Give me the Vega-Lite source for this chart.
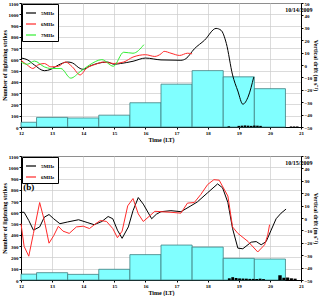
{
  "$schema": "https://vega.github.io/schema/vega-lite/v6.json",
  "padding": {"top": 0, "left": 0, "right": 0, "bottom": 0},
  "spacing": 10,
  "config": {
    "font": "Liberation Serif",
    "view": {"stroke": "#000", "strokeWidth": 1},
    "axis": {
      "labelFont": "Liberation Serif", "labelFontWeight": "bold", "labelFontSize": 5, "labelColor": "#000",
      "titleFont": "Liberation Serif", "titleFontWeight": "bold", "titleFontSize": 6, "titleColor": "#000",
      "tickSize": 2, "labelPadding": 1, "titlePadding": 1, "domainColor": "#000", "tickColor": "#000",
      "gridColor": "#cccccc", "gridWidth": 0.7, "labelOverlap": false, "labelFlush": false, "labelBound": false
    },
    "legend": {
      "orient": "top-left", "offset": 1, "strokeColor": "#000", "fillColor": "#fff", "padding": 3,
      "labelFont": "Liberation Serif", "labelFontWeight": "bold", "labelFontSize": 5, "labelColor": "#000",
      "symbolType": "stroke", "symbolSize": 100, "symbolStrokeWidth": 1.2, "rowPadding": 2, "title": null
    }
  },
  "vconcat": [
    {
      "width": 280, "height": 124,
      "layer": [
        {
          "data": {"values": [
            {"h": 12.0, "h1": 12.5, "count": 42},
            {"h": 12.5, "h1": 13.5, "count": 85},
            {"h": 13.5, "h1": 14.5, "count": 80},
            {"h": 14.5, "h1": 15.5, "count": 105},
            {"h": 15.5, "h1": 16.5, "count": 215},
            {"h": 16.5, "h1": 17.5, "count": 380},
            {"h": 17.5, "h1": 18.5, "count": 500},
            {"h": 18.5, "h1": 19.5, "count": 445},
            {"h": 19.5, "h1": 20.5, "count": 340}
          ]},
          "mark": {"type": "bar", "fill": "#80ffff", "stroke": "#3f7f80", "strokeWidth": 0.8},
          "encoding": {
            "x": {"field": "h", "type": "quantitative", "scale": {"domain": [12, 21], "nice": false},
                  "axis": {"values": [12,13,14,15,16,17,18,19,20,21], "format": "d", "grid": true, "title": "Time (LT)", "labelOverlap": false}},
            "x2": {"field": "h1"},
            "y": {"field": "count", "type": "quantitative", "scale": {"domain": [0, 1100], "nice": false},
                  "axis": {"orient": "left", "values": [0,100,200,300,400,500,600,700,800,900,1000,1100], "format": "d", "grid": true, "title": "Number of lightning strikes"}},
            "y2": {"datum": 0}
          }
        },
        {
          "data": {"values": [
            {"h": 18.64, "h1": 18.72, "count": 6},
            {"h": 18.96, "h1": 19.04, "count": 10},
            {"h": 19.06, "h1": 19.14, "count": 12},
            {"h": 19.16, "h1": 19.24, "count": 14},
            {"h": 19.26, "h1": 19.34, "count": 12},
            {"h": 19.36, "h1": 19.44, "count": 10},
            {"h": 19.46, "h1": 19.54, "count": 13},
            {"h": 19.56, "h1": 19.64, "count": 12},
            {"h": 19.66, "h1": 19.74, "count": 10},
            {"h": 20.64, "h1": 20.72, "count": 5},
            {"h": 20.74, "h1": 20.82, "count": 5},
            {"h": 20.84, "h1": 20.92, "count": 5}
          ]},
          "mark": {"type": "bar", "fill": "#000"},
          "encoding": {
            "x": {"field": "h", "type": "quantitative", "axis": null},
            "x2": {"field": "h1"},
            "y": {"field": "count", "type": "quantitative", "scale": {"domain": [0, 1100], "nice": false}, "axis": null},
            "y2": {"datum": 0}
          }
        },
        {
          "data": {"values": [
            {"freq": "5MHz", "h": 12.0, "d": 5.6}, {"freq": "5MHz", "h": 12.2, "d": 4.3}, {"freq": "5MHz", "h": 12.43, "d": 0},
            {"freq": "5MHz", "h": 12.75, "d": -4.6}, {"freq": "5MHz", "h": 12.96, "d": -3.5}, {"freq": "5MHz", "h": 13.2, "d": 0},
            {"freq": "5MHz", "h": 13.5, "d": 2.4}, {"freq": "5MHz", "h": 13.65, "d": 1.7}, {"freq": "5MHz", "h": 13.9, "d": -2.8},
            {"freq": "5MHz", "h": 14.0, "d": -3.5}, {"freq": "5MHz", "h": 14.2, "d": -1}, {"freq": "5MHz", "h": 14.45, "d": 1.2},
            {"freq": "5MHz", "h": 14.77, "d": 2.4}, {"freq": "5MHz", "h": 15.0, "d": 0.6}, {"freq": "5MHz", "h": 15.2, "d": 1.2},
            {"freq": "5MHz", "h": 15.6, "d": 3}, {"freq": "5MHz", "h": 16.0, "d": 5.6}, {"freq": "5MHz", "h": 16.5, "d": 4.1},
            {"freq": "5MHz", "h": 17.14, "d": 3.8}, {"freq": "5MHz", "h": 17.3, "d": 5.1}, {"freq": "5MHz", "h": 17.57, "d": 13},
            {"freq": "5MHz", "h": 17.9, "d": 20}, {"freq": "5MHz", "h": 18.27, "d": 29.5}, {"freq": "5MHz", "h": 18.43, "d": 28},
            {"freq": "5MHz", "h": 18.6, "d": 17.4}, {"freq": "5MHz", "h": 18.8, "d": -8}, {"freq": "5MHz", "h": 18.97, "d": -21},
            {"freq": "5MHz", "h": 19.13, "d": -31.6}, {"freq": "5MHz", "h": 19.31, "d": -25}, {"freq": "5MHz", "h": 19.48, "d": -9.8},
            {"freq": "6MHz", "h": 12.0, "d": 3.8}, {"freq": "6MHz", "h": 12.2, "d": 0}, {"freq": "6MHz", "h": 12.38, "d": -2.8},
            {"freq": "6MHz", "h": 12.54, "d": 0}, {"freq": "6MHz", "h": 12.75, "d": 1.2}, {"freq": "6MHz", "h": 12.96, "d": -1.5},
            {"freq": "6MHz", "h": 13.2, "d": -1}, {"freq": "6MHz", "h": 13.43, "d": 2.4}, {"freq": "6MHz", "h": 13.65, "d": -1.5},
            {"freq": "6MHz", "h": 13.9, "d": -8}, {"freq": "6MHz", "h": 14.1, "d": -2.8}, {"freq": "6MHz", "h": 14.4, "d": 0.6},
            {"freq": "6MHz", "h": 14.66, "d": 2.4}, {"freq": "6MHz", "h": 14.97, "d": 1.2}, {"freq": "6MHz", "h": 15.3, "d": 2.4},
            {"freq": "6MHz", "h": 15.6, "d": 6.4}, {"freq": "6MHz", "h": 16.0, "d": 8.3}, {"freq": "6MHz", "h": 16.3, "d": 6.9},
            {"freq": "6MHz", "h": 16.5, "d": 9}, {"freq": "6MHz", "h": 16.6, "d": 11}, {"freq": "6MHz", "h": 16.82, "d": 9.5},
            {"freq": "6MHz", "h": 17.1, "d": 7.7}, {"freq": "6MHz", "h": 17.35, "d": 9.5}, {"freq": "6MHz", "h": 17.5, "d": 9},
            {"freq": "7MHz", "h": 12.0, "d": 2.4}, {"freq": "7MHz", "h": 12.2, "d": 0.6}, {"freq": "7MHz", "h": 12.43, "d": 3.2},
            {"freq": "7MHz", "h": 12.75, "d": -1.5}, {"freq": "7MHz", "h": 12.96, "d": -2.8}, {"freq": "7MHz", "h": 13.28, "d": -2.8},
            {"freq": "7MHz", "h": 13.6, "d": -10.6}, {"freq": "7MHz", "h": 13.9, "d": -5.4}, {"freq": "7MHz", "h": 14.2, "d": 0},
            {"freq": "7MHz", "h": 14.6, "d": 4.3}, {"freq": "7MHz", "h": 14.97, "d": -1}, {"freq": "7MHz", "h": 15.3, "d": 10.3},
            {"freq": "7MHz", "h": 15.6, "d": 9.5}, {"freq": "7MHz", "h": 15.95, "d": 16.4}
          ]},
          "mark": {"type": "line", "strokeWidth": 1, "interpolate": "monotone"},
          "encoding": {
            "x": {"field": "h", "type": "quantitative", "axis": null},
            "y": {"field": "d", "type": "quantitative", "scale": {"domain": [-50, 50], "nice": false},
                  "axis": {"orient": "right", "values": [-50,-40,-30,-20,-10,0,10,20,30,40,50], "grid": false, "title": "Vertical drift (m s⁻¹)"}},
            "color": {"field": "freq", "type": "nominal",
                      "scale": {"domain": ["5MHz", "6MHz", "7MHz"], "range": ["#000000", "#ff2a2a", "#33ee33"]}}
          }
        },
        {
          "data": {"values": [{"h": 12.25, "d": 23, "label": "(a)"}, {"h": 20.93, "d": 44.5, "label": "10/14/2009"}]},
          "mark": {"type": "text", "baseline": "middle", "fontWeight": "bold", "font": "Liberation Serif"},
          "encoding": {
            "x": {"field": "h", "type": "quantitative", "axis": null},
            "y": {"field": "d", "type": "quantitative", "scale": {"domain": [-50, 50], "nice": false}, "axis": null},
            "text": {"field": "label"},
            "align": {"condition": {"test": "datum.label === '(a)'", "value": "left"}, "value": "right"},
            "size": {"condition": {"test": "datum.label === '(a)'", "value": 9}, "value": 6}
          }
        }
      ],
      "resolve": {"scale": {"y": "independent"}, "axis": {"y": "independent", "x": "independent"}}
    },
    {
      "width": 280, "height": 124,
      "layer": [
        {
          "data": {"values": [
            {"h": 12.0, "h1": 12.5, "count": 52},
            {"h": 12.5, "h1": 13.5, "count": 65},
            {"h": 13.5, "h1": 14.5, "count": 50},
            {"h": 14.5, "h1": 15.5, "count": 95},
            {"h": 15.5, "h1": 16.5, "count": 225},
            {"h": 16.5, "h1": 17.5, "count": 310},
            {"h": 17.5, "h1": 18.5, "count": 292},
            {"h": 18.5, "h1": 19.5, "count": 192},
            {"h": 19.5, "h1": 20.5, "count": 186}
          ]},
          "mark": {"type": "bar", "fill": "#80ffff", "stroke": "#3f7f80", "strokeWidth": 0.8},
          "encoding": {
            "x": {"field": "h", "type": "quantitative", "scale": {"domain": [12, 21], "nice": false},
                  "axis": {"values": [12,13,14,15,16,17,18,19,20,21], "format": "d", "grid": true, "title": "Time (LT)", "labelOverlap": false}},
            "x2": {"field": "h1"},
            "y": {"field": "count", "type": "quantitative", "scale": {"domain": [0, 1100], "nice": false},
                  "axis": {"orient": "left", "values": [0,100,200,300,400,500,600,700,800,900,1000,1100], "format": "d", "grid": true, "title": "Number of lightning strikes"}},
            "y2": {"datum": 0}
          }
        },
        {
          "data": {"values": [
            {"h": 18.65, "h1": 18.74, "count": 15},
            {"h": 18.76, "h1": 18.85, "count": 25},
            {"h": 18.87, "h1": 18.96, "count": 18},
            {"h": 18.98, "h1": 19.07, "count": 14},
            {"h": 19.09, "h1": 19.18, "count": 13},
            {"h": 19.2, "h1": 19.29, "count": 12},
            {"h": 19.31, "h1": 19.4, "count": 10},
            {"h": 19.42, "h1": 19.51, "count": 10},
            {"h": 19.53, "h1": 19.62, "count": 9},
            {"h": 19.64, "h1": 19.73, "count": 12},
            {"h": 19.75, "h1": 19.84, "count": 8},
            {"h": 20.27, "h1": 20.38, "count": 42},
            {"h": 20.4, "h1": 20.5, "count": 20},
            {"h": 20.52, "h1": 20.62, "count": 22},
            {"h": 20.64, "h1": 20.74, "count": 15},
            {"h": 20.76, "h1": 20.86, "count": 12}
          ]},
          "mark": {"type": "bar", "fill": "#000"},
          "encoding": {
            "x": {"field": "h", "type": "quantitative", "axis": null},
            "x2": {"field": "h1"},
            "y": {"field": "count", "type": "quantitative", "scale": {"domain": [0, 1100], "nice": false}, "axis": null},
            "y2": {"datum": 0}
          }
        },
        {
          "data": {"values": [
            {"freq": "5MHz", "h": 12.0, "d": 4.6}, {"freq": "5MHz", "h": 12.1, "d": 4.6}, {"freq": "5MHz", "h": 12.25, "d": -2},
            {"freq": "5MHz", "h": 12.4, "d": -9.8}, {"freq": "5MHz", "h": 12.6, "d": -7.2}, {"freq": "5MHz", "h": 12.75, "d": 0.7},
            {"freq": "5MHz", "h": 12.9, "d": 2.8}, {"freq": "5MHz", "h": 13.05, "d": -0.6}, {"freq": "5MHz", "h": 13.25, "d": -4.6},
            {"freq": "5MHz", "h": 13.5, "d": -3.2}, {"freq": "5MHz", "h": 13.85, "d": -1.4}, {"freq": "5MHz", "h": 14.15, "d": -3.8},
            {"freq": "5MHz", "h": 14.35, "d": -5.4}, {"freq": "5MHz", "h": 14.6, "d": -2.8}, {"freq": "5MHz", "h": 14.8, "d": 1.2},
            {"freq": "5MHz", "h": 14.95, "d": -0.6}, {"freq": "5MHz", "h": 15.1, "d": -9.8}, {"freq": "5MHz", "h": 15.25, "d": -16.4},
            {"freq": "5MHz", "h": 15.45, "d": -7.2}, {"freq": "5MHz", "h": 15.6, "d": 5.9}, {"freq": "5MHz", "h": 15.77, "d": 16.5},
            {"freq": "5MHz", "h": 15.93, "d": 11.2}, {"freq": "5MHz", "h": 16.2, "d": -0.6}, {"freq": "5MHz", "h": 16.35, "d": 3},
            {"freq": "5MHz", "h": 16.5, "d": 5.1}, {"freq": "5MHz", "h": 16.82, "d": 5.9}, {"freq": "5MHz", "h": 17.14, "d": 5.1},
            {"freq": "5MHz", "h": 17.46, "d": 9.8}, {"freq": "5MHz", "h": 17.67, "d": 13}, {"freq": "5MHz", "h": 18.0, "d": 20.4},
            {"freq": "5MHz", "h": 18.32, "d": 27.5}, {"freq": "5MHz", "h": 18.48, "d": 24.3}, {"freq": "5MHz", "h": 18.65, "d": 12.5},
            {"freq": "5MHz", "h": 18.8, "d": -8.5}, {"freq": "5MHz", "h": 18.97, "d": -24.3}, {"freq": "5MHz", "h": 19.13, "d": -24.8},
            {"freq": "5MHz", "h": 19.4, "d": -19.5}, {"freq": "5MHz", "h": 19.56, "d": -19}, {"freq": "5MHz", "h": 19.72, "d": -21.6},
            {"freq": "5MHz", "h": 19.88, "d": -19}, {"freq": "5MHz", "h": 20.04, "d": -9.8}, {"freq": "5MHz", "h": 20.2, "d": -0.6},
            {"freq": "5MHz", "h": 20.36, "d": 3.9}, {"freq": "5MHz", "h": 20.52, "d": 7.2},
            {"freq": "6MHz", "h": 12.0, "d": -4.6}, {"freq": "6MHz", "h": 12.1, "d": -22.9}, {"freq": "6MHz", "h": 12.25, "d": -30.8},
            {"freq": "6MHz", "h": 12.4, "d": -12.4}, {"freq": "6MHz", "h": 12.6, "d": 12.5}, {"freq": "6MHz", "h": 12.75, "d": -2},
            {"freq": "6MHz", "h": 12.9, "d": -20.3}, {"freq": "6MHz", "h": 13.05, "d": -14.3}, {"freq": "6MHz", "h": 13.2, "d": -6.7},
            {"freq": "6MHz", "h": 13.35, "d": -10.6}, {"freq": "6MHz", "h": 13.55, "d": -12.4}, {"freq": "6MHz", "h": 13.78, "d": -7.2},
            {"freq": "6MHz", "h": 14.0, "d": -6.6}, {"freq": "6MHz", "h": 14.2, "d": -8.5}, {"freq": "6MHz", "h": 14.4, "d": -4.6},
            {"freq": "6MHz", "h": 14.55, "d": -2}, {"freq": "6MHz", "h": 14.75, "d": -2.8}, {"freq": "6MHz", "h": 14.95, "d": -8.5},
            {"freq": "6MHz", "h": 15.1, "d": -15.9}, {"freq": "6MHz", "h": 15.25, "d": -10.6}, {"freq": "6MHz", "h": 15.43, "d": 9.8},
            {"freq": "6MHz", "h": 15.6, "d": 15.7}, {"freq": "6MHz", "h": 15.77, "d": 3.3}, {"freq": "6MHz", "h": 15.93, "d": -2.8},
            {"freq": "6MHz", "h": 16.15, "d": 2}, {"freq": "6MHz", "h": 16.3, "d": 5.4}, {"freq": "6MHz", "h": 16.5, "d": 5.1},
            {"freq": "6MHz", "h": 16.82, "d": 4.6}, {"freq": "6MHz", "h": 17.14, "d": 3.9}, {"freq": "6MHz", "h": 17.35, "d": 12},
            {"freq": "6MHz", "h": 17.57, "d": 12.5}, {"freq": "6MHz", "h": 17.78, "d": 19}, {"freq": "6MHz", "h": 18.0, "d": 27},
            {"freq": "6MHz", "h": 18.2, "d": 30.9}, {"freq": "6MHz", "h": 18.37, "d": 30.5}, {"freq": "6MHz", "h": 18.65, "d": 17.7},
            {"freq": "6MHz", "h": 18.8, "d": -7.2}, {"freq": "6MHz", "h": 18.97, "d": -12.4}, {"freq": "6MHz", "h": 19.3, "d": -19},
            {"freq": "6MHz", "h": 19.61, "d": -27.4}, {"freq": "6MHz", "h": 19.83, "d": -21.6}, {"freq": "6MHz", "h": 19.93, "d": -13.8},
            {"freq": "6MHz", "h": 19.99, "d": -5.4}
          ]},
          "mark": {"type": "line", "strokeWidth": 1},
          "encoding": {
            "x": {"field": "h", "type": "quantitative", "axis": null},
            "y": {"field": "d", "type": "quantitative", "scale": {"domain": [-50, 50], "nice": false},
                  "axis": {"orient": "right", "values": [-50,-40,-30,-20,-10,0,10,20,30,40,50], "grid": false, "title": "Vertical drift (m s⁻¹)"}},
            "color": {"field": "freq", "type": "nominal",
                      "scale": {"domain": ["5MHz", "6MHz"], "range": ["#000000", "#ff2a2a"]}}
          }
        },
        {
          "data": {"values": [{"h": 12.25, "d": 25, "label": "(b)"}, {"h": 20.93, "d": 44.5, "label": "10/15/2009"}]},
          "mark": {"type": "text", "baseline": "middle", "fontWeight": "bold", "font": "Liberation Serif"},
          "encoding": {
            "x": {"field": "h", "type": "quantitative", "axis": null},
            "y": {"field": "d", "type": "quantitative", "scale": {"domain": [-50, 50], "nice": false}, "axis": null},
            "text": {"field": "label"},
            "align": {"condition": {"test": "datum.label === '(b)'", "value": "left"}, "value": "right"},
            "size": {"condition": {"test": "datum.label === '(b)'", "value": 9}, "value": 6}
          }
        }
      ],
      "resolve": {"scale": {"y": "independent"}, "axis": {"y": "independent", "x": "independent"}}
    }
  ],
  "resolve": {"scale": {"color": "independent"}, "legend": {"color": "independent"}}
}
